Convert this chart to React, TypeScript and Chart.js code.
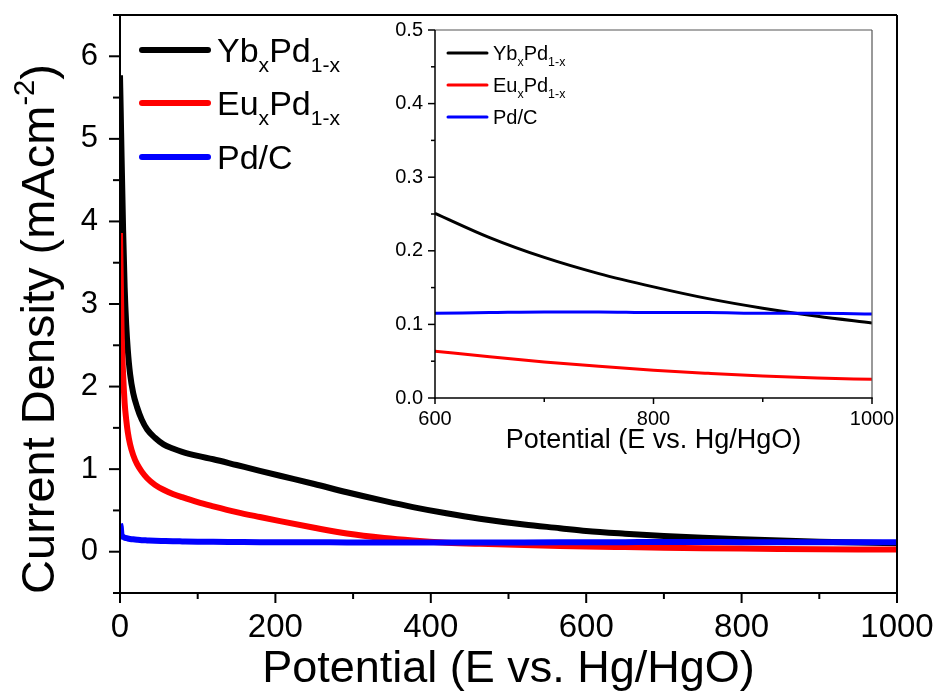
import { useEffect, useRef } from 'react';
import { Chart, registerables } from 'chart.js';

Chart.register(...registerables);

const FONT = '"Liberation Sans", Arial, Helvetica, sans-serif';

// Potential (E vs. Hg/HgO)
const potential = [
  0, 1, 2, 4, 6, 8, 10, 13, 17, 22,
  28, 35, 45, 56, 68, 80, 100, 120, 150, 180,
  206, 250, 292, 340, 377, 420, 463, 520, 566, 600,
  650, 700, 750, 800, 850, 900, 950, 1000,
];

// Current density (mA cm^-2) for each catalyst
const ybPd = [
  5.77, 5.3, 4.8, 3.9, 3.2, 2.75, 2.45, 2.15, 1.92, 1.75,
  1.6, 1.48, 1.38, 1.3, 1.25, 1.21, 1.16, 1.12, 1.05, 0.98,
  0.92, 0.82, 0.72, 0.615, 0.54, 0.465, 0.4, 0.33, 0.285, 0.251,
  0.218, 0.191, 0.169, 0.151, 0.135, 0.122, 0.111, 0.102,
];
const euPd = [
  3.86, 3.3, 2.7, 2.15, 1.8, 1.6, 1.45, 1.3, 1.17, 1.06,
  0.97, 0.89, 0.81, 0.75, 0.7, 0.66, 0.6, 0.55, 0.48, 0.42,
  0.37, 0.29, 0.22, 0.165, 0.135, 0.11, 0.095, 0.08, 0.07, 0.0635,
  0.056, 0.049, 0.043, 0.0377, 0.0335, 0.0298, 0.0272, 0.0254,
];
const pdC = [
  0.34, 0.3, 0.2, 0.18, 0.17, 0.165, 0.16, 0.155, 0.15, 0.145,
  0.14, 0.137, 0.133, 0.13, 0.127, 0.125, 0.122, 0.12, 0.118, 0.116,
  0.115, 0.114, 0.113, 0.112, 0.112, 0.112, 0.112, 0.113, 0.114, 0.115,
  0.116, 0.117, 0.117, 0.116, 0.116, 0.115, 0.115, 0.114,
];

// Axis ticks
const mainXTicks = [0, 200, 400, 600, 800, 1000];
const mainXMinor = [100, 300, 500, 700, 900];
const mainYTicks = [0, 1, 2, 3, 4, 5, 6];
const mainYMinor = [-0.5, 0.5, 1.5, 2.5, 3.5, 4.5, 5.5, 6.5];
const insetXTicks = [600, 800, 1000];
const insetXMinor = [700, 900];
const insetYTicks = [0, 0.1, 0.2, 0.3, 0.4, 0.5];
const insetYMinor = [0.05, 0.15, 0.25, 0.35, 0.45];
const insetStart = 600;

type Seg = { t: string; s?: 'sub' | 'sup' };

const seriesNames: Seg[][] = [
  [{ t: 'Yb' }, { t: 'x', s: 'sub' }, { t: 'Pd' }, { t: '1-x', s: 'sub' }],
  [{ t: 'Eu' }, { t: 'x', s: 'sub' }, { t: 'Pd' }, { t: '1-x', s: 'sub' }],
  [{ t: 'Pd/C' }],
];
const seriesColors = ['#000000', '#ff0000', '#0000ff'];
const seriesValues = [ybPd, euPd, pdC];

const xTitle: Seg[] = [{ t: 'Potential (E vs. Hg/HgO)' }];
const yTitle: Seg[] = [{ t: 'Current Density (mAcm' }, { t: '-2', s: 'sup' }, { t: ')' }];

function segsWidth(ctx: CanvasRenderingContext2D, segs: Seg[], size: number) {
  let w = 0;
  for (const s of segs) {
    ctx.font = `${s.s ? size * 0.62 : size}px ${FONT}`;
    w += ctx.measureText(s.t).width;
  }
  return w;
}

function drawSegs(
  ctx: CanvasRenderingContext2D,
  segs: Seg[],
  x: number,
  baseline: number,
  size: number,
  align: 'left' | 'center',
) {
  let cx = align === 'center' ? x - segsWidth(ctx, segs, size) / 2 : x;
  ctx.textAlign = 'left';
  ctx.textBaseline = 'alphabetic';
  for (const s of segs) {
    const fs = s.s ? size * 0.62 : size;
    const dy = s.s === 'sub' ? size * 0.3 : s.s === 'sup' ? -size * 0.42 : 0;
    ctx.font = `${fs}px ${FONT}`;
    ctx.fillText(s.t, cx, baseline + dy);
    cx += ctx.measureText(s.t).width;
  }
}

interface FrameCfg {
  xMajor: number[];
  xMinor: number[];
  yMajor: number[];
  yMinor: number[];
  xFmt: (v: number) => string;
  yFmt: (v: number) => string;
  xTickSize: number;
  yTickSize: number;
  xLabelGap: number;
  yLabelGap: number;
  xMajorLen: number;
  xMinorLen: number;
  yMajorLen: number;
  yMinorLen: number;
  axisWidth: number;
  boxWidth: number;
  boxColor: string;
  titleSize: number;
  xTitleGap: number;
  yTitle?: { segs: Seg[]; dx: number; dy: number; size: number };
  legend: { x0: number; x1: number; tx: number; ys: number[]; size: number; width: number };
}

function framePlugin(id: string, cfg: FrameCfg) {
  return {
    id,
    afterDraw(chart: Chart) {
      const { ctx, chartArea: a } = chart;
      const xs = chart.scales.x;
      const ys = chart.scales.y;
      const seg = (x1: number, y1: number, x2: number, y2: number) => {
        ctx.beginPath();
        ctx.moveTo(x1, y1);
        ctx.lineTo(x2, y2);
        ctx.stroke();
      };
      ctx.save();
      ctx.lineCap = 'butt';

      // top and right border
      ctx.strokeStyle = cfg.boxColor;
      ctx.lineWidth = cfg.boxWidth;
      seg(a.left, a.top, a.right, a.top);
      seg(a.right, a.top, a.right, a.bottom);

      // left and bottom axes
      ctx.strokeStyle = '#000';
      ctx.lineWidth = cfg.axisWidth;
      seg(a.left, a.top, a.left, a.bottom + cfg.axisWidth / 2);
      seg(a.left - cfg.axisWidth / 2, a.bottom, a.right + cfg.axisWidth / 2, a.bottom);

      // ticks
      for (const v of cfg.xMajor) {
        const p = xs.getPixelForValue(v);
        seg(p, a.bottom, p, a.bottom + cfg.xMajorLen);
      }
      for (const v of cfg.xMinor) {
        const p = xs.getPixelForValue(v);
        seg(p, a.bottom, p, a.bottom + cfg.xMinorLen);
      }
      for (const v of cfg.yMajor) {
        const p = ys.getPixelForValue(v);
        seg(a.left - cfg.yMajorLen, p, a.left, p);
      }
      for (const v of cfg.yMinor) {
        const p = ys.getPixelForValue(v);
        seg(a.left - cfg.yMinorLen, p, a.left, p);
      }

      // tick labels
      ctx.fillStyle = '#000';
      ctx.textBaseline = 'middle';
      ctx.textAlign = 'center';
      ctx.font = `${cfg.xTickSize}px ${FONT}`;
      for (const v of cfg.xMajor) {
        ctx.fillText(cfg.xFmt(v), xs.getPixelForValue(v), a.bottom + cfg.xLabelGap);
      }
      ctx.textAlign = 'right';
      ctx.font = `${cfg.yTickSize}px ${FONT}`;
      for (const v of cfg.yMajor) {
        ctx.fillText(cfg.yFmt(v), a.left - cfg.yLabelGap, ys.getPixelForValue(v));
      }

      // axis titles
      drawSegs(ctx, xTitle, (a.left + a.right) / 2, a.bottom + cfg.xTitleGap, cfg.titleSize, 'center');
      if (cfg.yTitle) {
        ctx.save();
        ctx.translate(a.left + cfg.yTitle.dx, a.top + cfg.yTitle.dy);
        ctx.rotate(-Math.PI / 2);
        drawSegs(ctx, cfg.yTitle.segs, 0, 0, cfg.yTitle.size, 'center');
        ctx.restore();
      }

      // legend
      const lg = cfg.legend;
      seriesNames.forEach((name, i) => {
        const y = a.top + lg.ys[i];
        ctx.strokeStyle = seriesColors[i];
        ctx.lineWidth = lg.width;
        ctx.lineCap = 'round';
        seg(a.left + lg.x0, y, a.left + lg.x1, y);
        ctx.fillStyle = '#000';
        drawSegs(ctx, name, a.left + lg.tx, y + lg.size * 0.358, lg.size, 'left');
      });
      ctx.restore();
    },
  };
}

function makeDatasets(from: number, width: number) {
  const order = [2, 1, 0];
  return seriesValues.map((vals, i) => ({
    label: seriesNames[i].map((s) => s.t).join(''),
    data: potential
      .map((x, j) => ({ x, y: vals[j] }))
      .filter((p) => p.x >= from),
    borderColor: seriesColors[i],
    borderWidth: width,
    pointRadius: 0,
    fill: false,
    cubicInterpolationMode: 'monotone' as const,
    order: order[i],
  }));
}

export default function App() {
  const mainRef = useRef<HTMLCanvasElement>(null);
  const insetRef = useRef<HTMLCanvasElement>(null);

  useEffect(() => {
    const main = new Chart(mainRef.current!, {
      type: 'line',
      data: { datasets: makeDatasets(0, 6) },
      options: {
        responsive: false,
        animation: false,
        events: [],
        layout: { padding: { left: 120, top: 15, right: 41, bottom: 103 } },
        plugins: { legend: { display: false }, tooltip: { enabled: false } },
        scales: {
          x: { type: 'linear', display: false, min: 0, max: 1000 },
          y: { type: 'linear', display: false, min: -0.5, max: 6.5 },
        },
      },
      plugins: [
        framePlugin('mainFrame', {
          xMajor: mainXTicks,
          xMinor: mainXMinor,
          yMajor: mainYTicks,
          yMinor: mainYMinor,
          xFmt: (v) => String(v),
          yFmt: (v) => String(v),
          xTickSize: 33,
          yTickSize: 31,
          xLabelGap: 35,
          yLabelGap: 22,
          xMajorLen: 10,
          xMinorLen: 6,
          yMajorLen: 11,
          yMinorLen: 7,
          axisWidth: 2,
          boxWidth: 2,
          boxColor: '#000',
          titleSize: 45,
          xTitleGap: 89,
          yTitle: { segs: yTitle, dx: -66, dy: 314, size: 47 },
          legend: { x0: 22, x1: 88, tx: 97, ys: [35, 88, 142], size: 34, width: 6 },
        }),
      ],
    });

    const inset = new Chart(insetRef.current!, {
      type: 'line',
      data: { datasets: makeDatasets(insetStart, 3) },
      options: {
        responsive: false,
        animation: false,
        events: [],
        layout: { padding: { left: 75, top: 30, right: 66, bottom: 82 } },
        plugins: { legend: { display: false }, tooltip: { enabled: false } },
        scales: {
          x: { type: 'linear', display: false, min: 600, max: 1000 },
          y: { type: 'linear', display: false, min: 0, max: 0.5 },
        },
      },
      plugins: [
        framePlugin('insetFrame', {
          xMajor: insetXTicks,
          xMinor: insetXMinor,
          yMajor: insetYTicks,
          yMinor: insetYMinor,
          xFmt: (v) => String(v),
          yFmt: (v) => v.toFixed(1),
          xTickSize: 20,
          yTickSize: 20,
          xLabelGap: 21,
          yLabelGap: 12,
          xMajorLen: 6,
          xMinorLen: 4,
          yMajorLen: 7,
          yMinorLen: 4,
          axisWidth: 1.5,
          boxWidth: 1.2,
          boxColor: '#555',
          titleSize: 27,
          xTitleGap: 50,
          legend: { x0: 13, x1: 52, tx: 58, ys: [23, 55, 87], size: 20, width: 3 },
        }),
      ],
    });

    return () => {
      main.destroy();
      inset.destroy();
    };
  }, []);

  return (
    <div style={{ position: 'absolute', left: 0, top: 0, width: 938, height: 696, background: '#fff' }}>
      <canvas
        ref={mainRef}
        width={938}
        height={696}
        style={{ position: 'absolute', left: 0, top: 0, width: 938, height: 696 }}
      />
      <canvas
        ref={insetRef}
        width={578}
        height={480}
        style={{ position: 'absolute', left: 360, top: 0, width: 578, height: 480 }}
      />
    </div>
  );
}
